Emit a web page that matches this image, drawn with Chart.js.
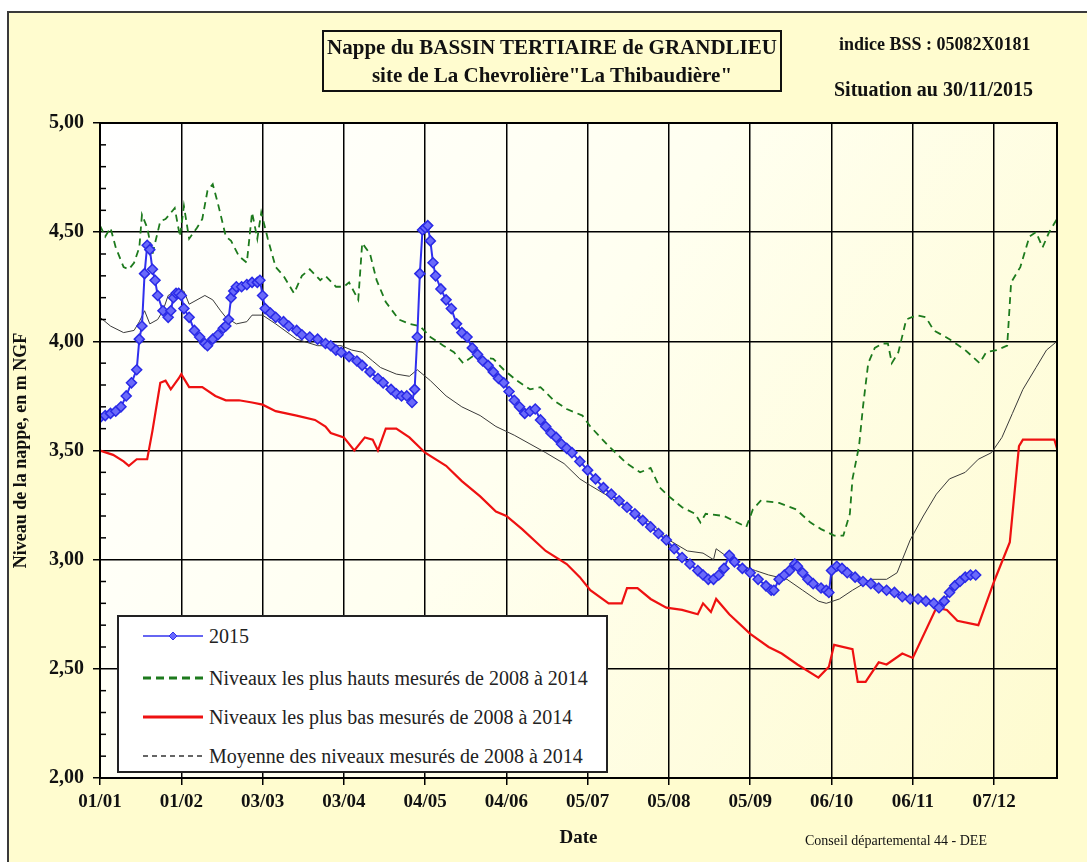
<!DOCTYPE html>
<html>
<head>
<meta charset="utf-8">
<script src="https://cdn.jsdelivr.net/npm/chart.js@4/dist/chart.umd.min.js"></script>
<style>
  html, body { margin:0; padding:0; background:#fff; width:1087px; height:862px; overflow:hidden; }
  #frame { position:absolute; left:7px; top:11px; width:1080px; height:851px; background:#FFFCCF;
           border-top:2px solid #3a3a3a; border-left:2px solid #3a3a3a; box-sizing:border-box; }
  #c { position:absolute; left:0; top:0; }
  .t { position:absolute; font-family:'Liberation Serif','Times New Roman',serif; color:#111; white-space:nowrap; }
  #titlebox { position:absolute; left:322px; top:30px; width:460px; height:62px; border:2px solid #111;
              box-sizing:border-box; display:flex; flex-direction:column; justify-content:center; align-items:center;
              font-family:'Liberation Serif','Times New Roman',serif; font-weight:bold; font-size:21px; line-height:28px; color:#111; }
  #legend { position:absolute; left:117px; top:615px; width:491px; height:158px; background:#fff;
            border:2px solid #222; box-sizing:border-box; }
  .li { position:absolute; left:24px; height:20px; display:flex; align-items:center; }
  .li span { font-family:'Liberation Serif','Times New Roman',serif; font-size:20px; color:#222; margin-left:6px; white-space:nowrap; }
</style>
</head>
<body>
<div id="frame"></div>
<canvas id="c" width="1087" height="862"></canvas>
<div id="titlebox"><div>Nappe du BASSIN TERTIAIRE de GRANDLIEU</div><div>site de La Chevrolière"La Thibaudière"</div></div>
<div class="t" style="left:839px; top:34px; font-size:18px; font-weight:bold;">indice BSS : 05082X0181</div>
<div class="t" style="left:834px; top:78px; font-size:20px; font-weight:bold;">Situation au 30/11/2015</div>
<div class="t" style="left:805px; top:833px; font-size:14px;">Conseil départemental 44 - DEE</div>
<div id="legend">
  <div class="li" style="top:9px;"><svg width="60" height="12"><line x1="0" y1="6" x2="60" y2="6" stroke="#3333ee" stroke-width="1.5"/><polygon points="30,2 34,6 30,10 26,6" fill="#6a6aff" stroke="#3333ee"/></svg><span>2015</span></div>
  <div class="li" style="top:51px;"><svg width="60" height="12"><line x1="0" y1="6" x2="60" y2="6" stroke="#1d7a1d" stroke-width="3" stroke-dasharray="8,5"/></svg><span>Niveaux les plus hauts mesurés de 2008 à 2014</span></div>
  <div class="li" style="top:90px;"><svg width="60" height="12"><line x1="0" y1="6" x2="60" y2="6" stroke="#ee1111" stroke-width="3"/></svg><span>Niveaux les plus bas mesurés de 2008 à 2014</span></div>
  <div class="li" style="top:129px;"><svg width="60" height="12"><line x1="0" y1="6" x2="60" y2="6" stroke="#333" stroke-width="1.5" stroke-dasharray="5,4"/></svg><span>Moyenne des niveaux mesurés de 2008 à 2014</span></div>
</div>
<script>
// ---- data (x = day of the year, 366-day axis; y = level in m NGF) ----
const tickDays   = [0, 31, 62, 93, 124, 155, 186, 217, 248, 279, 310, 341];
const tickLabels = ['01/01','01/02','03/03','03/04','04/05','04/06','05/07','05/08','05/09','06/10','06/11','07/12'];

const days2015 = [0,2,4,6,8,10,12,14,15,16,17,18,19,20,21,22,24,26,27,28,29,30,31,32,34,36,38,40,41,43,45,47,48,49,50,51,52,54,56,58,60,61,62,63,65,67,70,72,75,77,80,83,86,88,90,92,95,98,100,103,106,108,111,113,115,117,119,120,121,122,123,124,125,126,127,128,130,132,134,136,138,140,142,144,146,148,150,152,154,156,158,160,162,164,166,168,170,172,174,176,178,180,183,186,189,192,195,198,201,204,207,210,213,216,219,222,225,228,230,232,234,236,238,240,242,245,248,251,254,256,257,259,261,263,265,266,268,270,272,275,277,278,279,281,283,285,288,291,294,297,300,303,306,309,312,315,318,320,322,324,326,328,330,332,334];
const vals2015 = [3.65,3.66,3.67,3.68,3.70,3.75,3.81,3.87,4.01,4.07,4.31,4.44,4.42,4.33,4.28,4.21,4.14,4.11,4.14,4.20,4.22,4.22,4.21,4.15,4.11,4.05,4.02,3.99,3.98,4.01,4.03,4.06,4.07,4.10,4.20,4.23,4.25,4.25,4.26,4.27,4.27,4.28,4.21,4.15,4.13,4.11,4.09,4.07,4.05,4.03,4.02,4.01,3.99,3.98,3.96,3.95,3.93,3.91,3.89,3.86,3.83,3.81,3.78,3.76,3.75,3.75,3.72,3.78,4.02,4.31,4.51,4.52,4.53,4.46,4.36,4.30,4.24,4.19,4.15,4.08,4.04,4.02,3.97,3.94,3.91,3.89,3.86,3.83,3.81,3.77,3.73,3.70,3.67,3.68,3.69,3.64,3.61,3.58,3.56,3.53,3.51,3.49,3.45,3.41,3.37,3.33,3.30,3.27,3.24,3.21,3.18,3.15,3.12,3.09,3.05,3.01,2.98,2.95,2.93,2.91,2.91,2.93,2.96,3.02,2.99,2.96,2.94,2.91,2.88,2.86,2.86,2.91,2.93,2.95,2.98,2.97,2.94,2.91,2.89,2.87,2.86,2.85,2.95,2.97,2.96,2.94,2.92,2.90,2.89,2.87,2.86,2.85,2.83,2.82,2.82,2.81,2.80,2.78,2.81,2.85,2.88,2.90,2.92,2.93,2.93];

const daysHigh = [0,2,4,6,9,11,13,15,16,18,20,23,25,28.5,30.5,32,34,37,39,41,43,45,48,50,53,56,58,60,61.5,64,67,70,74,77,80,84,86,90,93,95,98.5,100,103,105.5,109,114,118,122,126,131,135,138.5,142,150,154,159,164,168,173,178,184,187,194,201,206,210,213.5,217,222,227,229,231,238,243,246.5,249,252,259,265.5,271,275,280,283.5,286,287,289.5,291,293,295.5,298.5,300.5,302,304.5,307.5,311.5,315,318,324,330,335.5,338,342,346,347.5,351,354.5,357,359.5,362,365];
const valsHigh = [4.53,4.48,4.52,4.43,4.34,4.33,4.36,4.43,4.58,4.52,4.40,4.55,4.56,4.61,4.48,4.62,4.47,4.52,4.56,4.69,4.72,4.63,4.48,4.46,4.39,4.36,4.59,4.47,4.59,4.47,4.34,4.30,4.22,4.30,4.33,4.28,4.30,4.25,4.25,4.27,4.19,4.45,4.40,4.28,4.18,4.10,4.08,4.07,4.02,3.98,3.95,3.90,3.93,3.92,3.87,3.82,3.78,3.79,3.73,3.69,3.66,3.61,3.52,3.44,3.40,3.42,3.33,3.29,3.24,3.21,3.17,3.21,3.20,3.17,3.15,3.23,3.27,3.26,3.23,3.17,3.14,3.11,3.11,3.21,3.37,3.52,3.70,3.90,3.97,3.99,3.99,3.90,3.95,4.10,4.12,4.11,4.05,4.01,3.96,3.90,3.95,3.96,3.98,4.27,4.34,4.48,4.50,4.43,4.50,4.56];

const daysLow = [0,5,9,11,14,18,20,23,25,27,30,31,34,39,44,48,53,58,62,67,75,82,86,88,93,97,101,104,106,109,113,118,124,132,138,145,151,155,161,170,178,183,187,194,199,201,205,210,216,222,228,230,233,235,240,248,255,260,266,274,278,280,287,289,292,297,300,306,310,319,323,327,335,341,347,350.5,352,360,364,365];
const valsLow = [3.50,3.48,3.45,3.43,3.46,3.46,3.59,3.81,3.82,3.78,3.83,3.85,3.79,3.79,3.75,3.73,3.73,3.72,3.71,3.68,3.66,3.64,3.61,3.58,3.56,3.50,3.56,3.55,3.50,3.60,3.60,3.56,3.49,3.43,3.36,3.29,3.22,3.20,3.14,3.04,2.98,2.92,2.86,2.80,2.80,2.87,2.87,2.82,2.78,2.77,2.75,2.80,2.76,2.82,2.75,2.66,2.60,2.57,2.52,2.46,2.51,2.61,2.59,2.44,2.44,2.53,2.52,2.57,2.55,2.78,2.77,2.72,2.70,2.90,3.08,3.52,3.55,3.55,3.55,3.51];

const daysMean = [0,4,9,13,15,17,19,22,24,26,29,32,34,37,40,43,46,48,52,56,58,62,67,75,83,92,96,100,104,107,113,118,121,126,132,138,145,151,158,164,170,177,183,187,194,202,210,217,224,230,234,235,243,250,255,262,268,274,277,282,287,294,300,304,306,309,314,319,324,330,335,340,344,348,352,357,361,365];
const valsMean = [4.11,4.07,4.04,4.05,4.09,4.14,4.08,4.10,4.14,4.21,4.23,4.23,4.17,4.19,4.21,4.19,4.14,4.11,4.08,4.09,4.12,4.12,4.08,4.01,3.98,3.98,3.96,3.95,3.91,3.88,3.85,3.84,3.87,3.82,3.75,3.70,3.66,3.61,3.57,3.53,3.49,3.44,3.37,3.34,3.29,3.23,3.17,3.09,3.04,3.03,3.00,3.05,2.98,2.95,2.93,2.91,2.86,2.81,2.80,2.82,2.86,2.91,2.91,2.94,3.00,3.09,3.20,3.30,3.37,3.40,3.46,3.49,3.56,3.67,3.78,3.88,3.96,4.00];

const toPts = (d, v) => d.map((x, i) => ({ x: x, y: v[i] }));

const FONT = "'Liberation Serif','Times New Roman',serif";

const bgPlugin = {
  id: 'bg',
  beforeDraw(chart) {
    const { ctx, chartArea: a } = chart;
    const g = ctx.createLinearGradient(a.left, a.top, a.right, a.bottom);
    g.addColorStop(0, '#ffffff');
    g.addColorStop(0.45, '#fffff0');
    g.addColorStop(1, '#fefbcf');
    ctx.save();
    ctx.fillStyle = g;
    ctx.fillRect(a.left, a.top, a.right - a.left, a.bottom - a.top);
    ctx.restore();
  },
  afterDraw(chart) {
    const { ctx, chartArea: a, scales } = chart;
    const y = scales.y;
    ctx.save();
    ctx.strokeStyle = '#000';
    ctx.lineWidth = 1.5;
    for (let k = 21; k < 50; k++) {
      if (k % 5 === 0) continue;
      const py = y.getPixelForValue(k / 10);
      ctx.beginPath(); ctx.moveTo(a.left, py); ctx.lineTo(a.left + 6, py); ctx.stroke();
    }
    ctx.lineWidth = 2;
    ctx.strokeRect(a.left, a.top, a.right - a.left, a.bottom - a.top);
    ctx.restore();
  }
};

new Chart(document.getElementById('c'), {
  type: 'line',
  data: {
    datasets: [
      { label: '2015', data: toPts(days2015, vals2015), borderColor: '#3030ee', borderWidth: 2,
        pointStyle: 'rectRot', pointRadius: 5, pointBorderWidth: 1.5, pointBorderColor: '#2a2ae6',
        pointBackgroundColor: '#6a6afa', tension: 0 },
      { label: 'Niveaux les plus hauts mesurés de 2008 à 2014', data: toPts(daysHigh, valsHigh),
        borderColor: '#1d7a1d', borderWidth: 1.8, borderDash: [7, 5], pointRadius: 0, tension: 0 },
      { label: 'Niveaux les plus bas mesurés de 2008 à 2014', data: toPts(daysLow, valsLow),
        borderColor: '#ee1111', borderWidth: 2.2, pointRadius: 0, tension: 0 },
      { label: 'Moyenne des niveaux mesurés de 2008 à 2014', data: toPts(daysMean, valsMean),
        borderColor: '#3a3a3a', borderWidth: 1, pointRadius: 0, tension: 0 }
    ]
  },
  options: {
    responsive: false,
    animation: false,
    layout: { padding: { top: 123, right: 30, left: 0, bottom: 0 } },
    plugins: { legend: { display: false }, tooltip: { enabled: false } },
    scales: {
      x: {
        type: 'linear', min: 0, max: 365,
        afterBuildTicks: s => { s.ticks = tickDays.map(v => ({ value: v })); },
        afterFit: s => { s.height = 84; },
        ticks: { autoSkip: false, maxRotation: 0, padding: 6, color: '#111',
                 font: { family: FONT, size: 19, weight: 'bold' },
                 callback: v => tickLabels[tickDays.indexOf(v)] },
        grid: { color: '#000', lineWidth: 1.5, tickLength: 7, drawTicks: true },
        border: { display: true, color: '#000', width: 2 },
        title: { display: true, text: 'Date', color: '#111', font: { family: FONT, size: 19, weight: 'bold' },
                 padding: { top: 0, bottom: 13 } }
      },
      y: {
        min: 2, max: 5,
        afterFit: s => { s.width = 100; },
        ticks: { stepSize: 0.5, padding: 9, color: '#111',
                 font: { family: FONT, size: 20, weight: 'bold' },
                 callback: v => v.toFixed(2).replace('.', ',') },
        grid: { color: '#000', lineWidth: 1.5, tickLength: 7, drawTicks: true },
        border: { display: true, color: '#000', width: 2 },
        title: { display: true, text: 'Niveau de la nappe, en m NGF', color: '#111',
                 font: { family: FONT, size: 18, weight: 'bold' }, padding: { top: 11, bottom: 0 } }
      }
    }
  },
  plugins: [bgPlugin]
});
</script>
</body>
</html>
